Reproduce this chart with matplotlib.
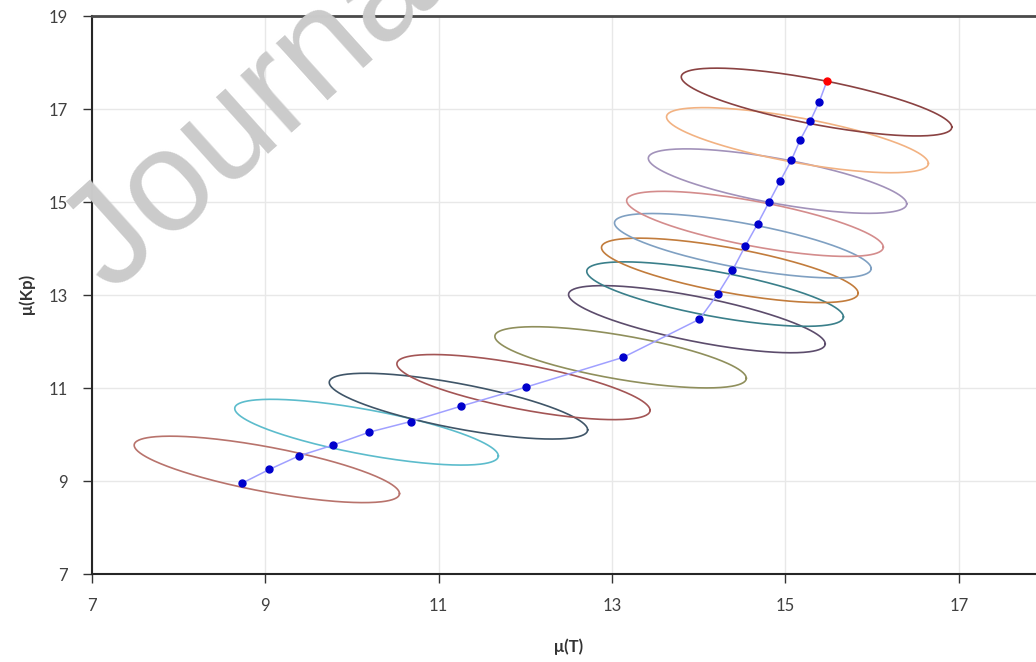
import numpy as np
import matplotlib.pyplot as plt

# path of mean values
mu_t = [8.73, 9.05, 9.39, 9.78, 10.20, 10.68, 11.26, 12.01, 13.13, 14.01, 14.22,
        14.39, 14.54, 14.68, 14.81, 14.94, 15.07, 15.17, 15.29, 15.39, 15.48]
mu_kp = [8.95, 9.25, 9.54, 9.77, 10.05, 10.28, 10.61, 11.02, 11.66, 12.48, 13.02,
         13.53, 14.06, 14.53, 14.99, 15.45, 15.90, 16.33, 16.75, 17.15, 17.60]

# ellipses: centre point index, half width, drop of the ends, half height
ell_idx = [1, 4, 6, 7, 8, 9, 10, 11, 12, 13, 15, 17, 19]
ell_w = [1.53, 1.52, 1.49, 1.46, 1.45, 1.48, 1.48, 1.48, 1.48, 1.48, 1.49, 1.51, 1.56]
ell_drop = [0.52, 0.51, 0.51, 0.50, 0.45, 0.53, 0.49, 0.49, 0.49, 0.50, 0.49, 0.50, 0.54]
ell_h = [0.49, 0.49, 0.49, 0.49, 0.48, 0.49, 0.49, 0.49, 0.49, 0.49, 0.49, 0.49, 0.49]
ell_colors = ['#b8736c', '#5cbccc', '#3f5568', '#a35555', '#8f8f5c', '#5c4c6c', '#3a7f8a',
              '#c27c3c', '#7fa0c2', '#d48c8c', '#a292ba', '#f2b282', '#8a4242']

x_ticks = [7, 9, 11, 13, 15, 17]
y_ticks = [7, 9, 11, 13, 15, 17, 19]

fig = plt.figure(figsize=(10.36, 6.62), dpi=100)
ax = fig.add_axes([0.0885, 0.1329, 0.9206, 0.8429])

t = np.linspace(0, 2*np.pi, 300)
for i, k in enumerate(ell_idx):
    ex = mu_t[k] - 0.03 + ell_w[i]*np.cos(t)
    ey = mu_kp[k] - ell_drop[i]*np.cos(t) + ell_h[i]*np.sin(t)
    ax.plot(ex, ey, color=ell_colors[i], lw=1.2, zorder=2)

ax.plot(mu_t, mu_kp, '-', color='#a0a0ff', lw=1.1, zorder=3)
ax.plot(mu_t[:-1], mu_kp[:-1], 'o', color='#0000cc', ms=5, zorder=4)
ax.plot(mu_t[-1:], mu_kp[-1:], 'o', color='#ff0000', ms=5, zorder=4)

ax.set_xlim(7, 18)
ax.set_ylim(7, 19)
ax.set_xticks(x_ticks)
ax.set_yticks(y_ticks)
ax.grid(True, color='#e8e8e8', lw=1)
ax.set_axisbelow(True)
ax.tick_params(direction='out', length=6.5, width=1, color='#333333', pad=11,
               labelsize=12, labelcolor='#404040')
for lab in ax.get_xticklabels() + ax.get_yticklabels():
    lab.set_family('Lato')
for s in ['left', 'bottom']:
    ax.spines[s].set_color('#262626')
    ax.spines[s].set_linewidth(1.5)
ax.spines['top'].set_color('#4a4a4a')
ax.spines['top'].set_linewidth(2)
ax.spines['right'].set_visible(False)

fig.text(569/1036, 1 - 647/662, 'μ(T)', ha='center', va='center', fontsize=12,
         fontweight='bold', family='Lato', color='#333333')
fig.text(27/1036, 1 - 294/662, 'μ(Kp)', ha='center', va='center', rotation=90,
         fontsize=12, fontweight='bold', family='Lato', color='#333333')

# watermark of the page
fig.text(112/1036, 1 - 295/662, 'Journal Pre-proof', rotation=42, fontsize=104,
         family='Liberation Sans', color='#cbcbcb', ha='left', va='baseline',
         rotation_mode='anchor', zorder=10)

fig.savefig('out.png', dpi=100)
